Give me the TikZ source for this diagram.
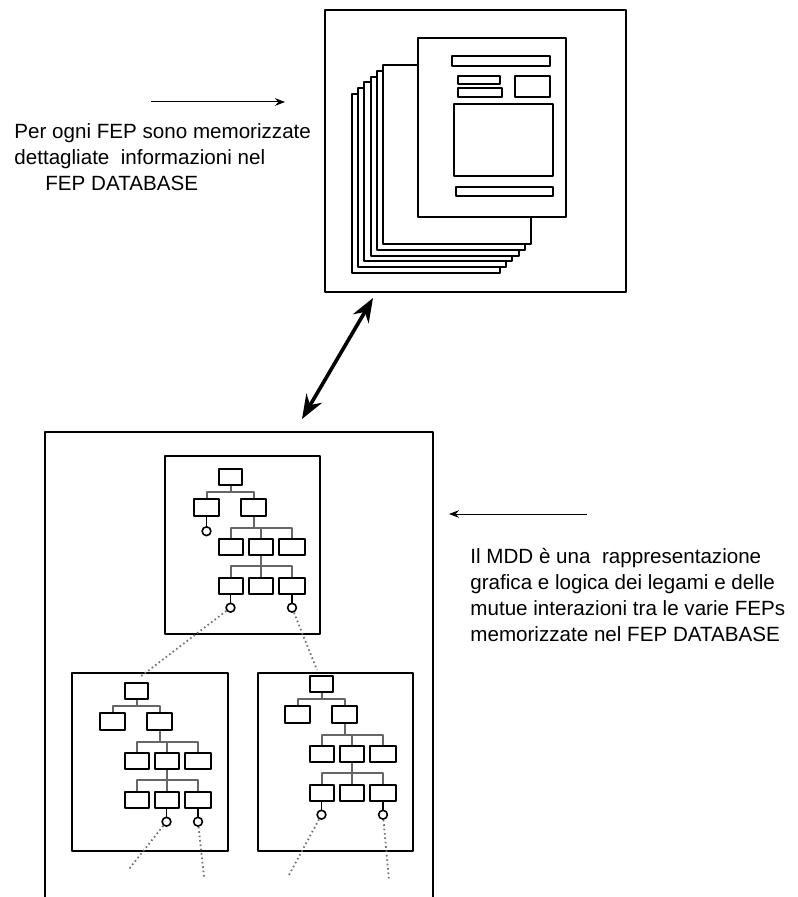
\documentclass[tikz,border=0pt]{standalone}
\usepackage{fontspec}
\setmainfont{Liberation Sans}
\usetikzlibrary{arrows.meta,positioning}
\tikzset{
  frame/.style={draw,line width=1pt,inner sep=0pt,anchor=north west},
  sheet/.style={draw,fill=white,line width=1pt},
  leaf/.style={draw,line width=1pt,minimum width=12pt,minimum height=8pt,inner sep=0pt},
  link/.style={black!60,line width=1pt},
  port/.style={circle,draw,line width=0.8pt,minimum size=4.4pt,inner sep=0pt},
  stem/.style={line width=0.8pt},
  trail/.style={black!55,line width=0.9pt,dash pattern=on 0.8pt off 1.4pt},
  note/.style={align=left,inner sep=0pt,anchor=north west,font=\fontsize{10.3}{13}\selectfont},
  fep tree/.pic={
    \node[leaf,minimum width=11.5pt] (-r) at (11.5,8) {};
    \node[leaf,minimum width=12.5pt,minimum height=8.5pt] (-a) at (-12.5,38.5) {};
    \node[leaf,minimum width=12.5pt,minimum height=8.5pt] (-b) at (34.5,38.5) {};
    \node[leaf] (-c1) at (11.5,78) {};
    \node[leaf] (-c2) at (41.5,78) {};
    \node[leaf,minimum width=13pt] (-c3) at (73,78) {};
    \node[leaf] (-d1) at (11.5,116.5) {};
    \node[leaf] (-d2) at (41.5,116.5) {};
    \node[leaf,minimum width=13pt] (-d3) at (73,116.5) {};
    \coordinate (-j1) at (11.5,23);
    \coordinate (-j2) at (34.5,59);
    \coordinate (-j3) at (41.5,97);
    \draw[link] (-r) -- (-j1) (-a) |- (-j1) -| (-b);
    \draw[link] (-b) -- (-j2) (-c1) |- (-j2) -| (-c3) (-j2) -| (-c2);
    \draw[link] (-c2) -- (-j3) (-d1) |- (-j3) -| (-d3) (-j3) -- (-d2);
  }
}
\begin{document}
\begin{tikzpicture}[x=0.5pt,y=-0.5pt,line join=round,
  thin arrow/.style={-{Stealth[length=5pt,width=3.8pt]},line width=0.5pt},
  big arrow/.style={{Stealth[length=12pt,width=9pt]}-{Stealth[length=12pt,width=9pt]},line width=1.8pt}]
\useasboundingbox (0,0) rectangle (797,897);
% FEP database
\node[frame,minimum width=150.5pt,minimum height=141pt] (db) at (324,9) {};
\foreach \k in {0,...,5}
  \draw[sheet] ({352+6.2*\k},{94-5.8*\k}) rectangle ++(148,179);
\node[frame,fill=white,minimum width=74pt,minimum height=89.5pt] (fp) at (417,37) {};
\draw[line width=1pt] (452,56) rectangle (550,66)
  (458,76) rectangle (500,84) (458,88) rectangle (502,97) (515,76) rectangle (550,97)
  (454,104) rectangle (553,176) (456,187) rectangle (553,196);
% left note
\coordinate (in0) at (151,102);
\coordinate (in1) at (285,102);
\draw[thin arrow] (in0) -- (in1);
\node[note] (t1) at (14,123.5) {Per ogni FEP sono memorizzate\\dettagliate\ \ informazioni nel\\\hspace*{15.5pt}FEP DATABASE};
% link between database and MDD
\coordinate (d0) at (302,419);
\coordinate (d1) at (373,298);
\draw[big arrow] (d0) -- (d1);
% MDD
\node[frame,minimum width=194pt,minimum height=240pt] (mdd) at (44,431) {};
\node[frame,minimum width=77.5pt,minimum height=89pt] (pa) at (164,455) {};
\node[frame,minimum width=78pt,minimum height=89pt] (pb) at (71,672) {};
\node[frame,minimum width=77.5pt,minimum height=89pt] (pc) at (257,672) {};
\pic (ta) at (219,469) {fep tree};
\pic (tb) at (125,683) {fep tree};
\pic (tc) at (310,676) {fep tree};
\node[port,below=4.5pt of ta-a] (ta-p0) {};
\node[port,below=4pt of ta-d1] (ta-p1) {};
\node[port,below=4pt of ta-d3] (ta-p3) {};
\node[port,below=4pt of tb-d2] (tb-p2) {};
\node[port,below=4pt of tb-d3] (tb-p3) {};
\node[port,below=4pt of tc-d1] (tc-p1) {};
\node[port,below=4pt of tc-d3] (tc-p3) {};
\draw[stem] (ta-a) -- (ta-p0) (ta-d1) -- (ta-p1) (ta-d3) -- (ta-p3)
  (tb-d2) -- (tb-p2) (tb-d3) -- (tb-p3) (tc-d1) -- (tc-p1) (tc-d3) -- (tc-p3);
\coordinate (pb-in) at (140,677);
\coordinate (pc-in) at (317,670);
\coordinate (tb-out2) at (129,869);
\coordinate (tb-out3) at (204,877);
\coordinate (tc-out1) at (289,875);
\coordinate (tc-out3) at (389,880);
\draw[trail] (ta-p1) -- (pb-in) (ta-p3) -- (pc-in);
\draw[trail] (tb-p2) -- (tb-out2) (tb-p3) -- (tb-out3)
  (tc-p1) -- (tc-out1) (tc-p3) -- (tc-out3);
% right note
\coordinate (in2) at (587,514);
\coordinate (in3) at (449,514);
\draw[thin arrow] (in2) -- (in3);
\node[note] (t2) at (470,547.5) {Il MDD è una\ \ rappresentazione\\grafica e logica dei legami e delle\\mutue interazioni tra le varie FEPs\\memorizzate nel FEP DATABASE};
\end{tikzpicture}
\end{document}
